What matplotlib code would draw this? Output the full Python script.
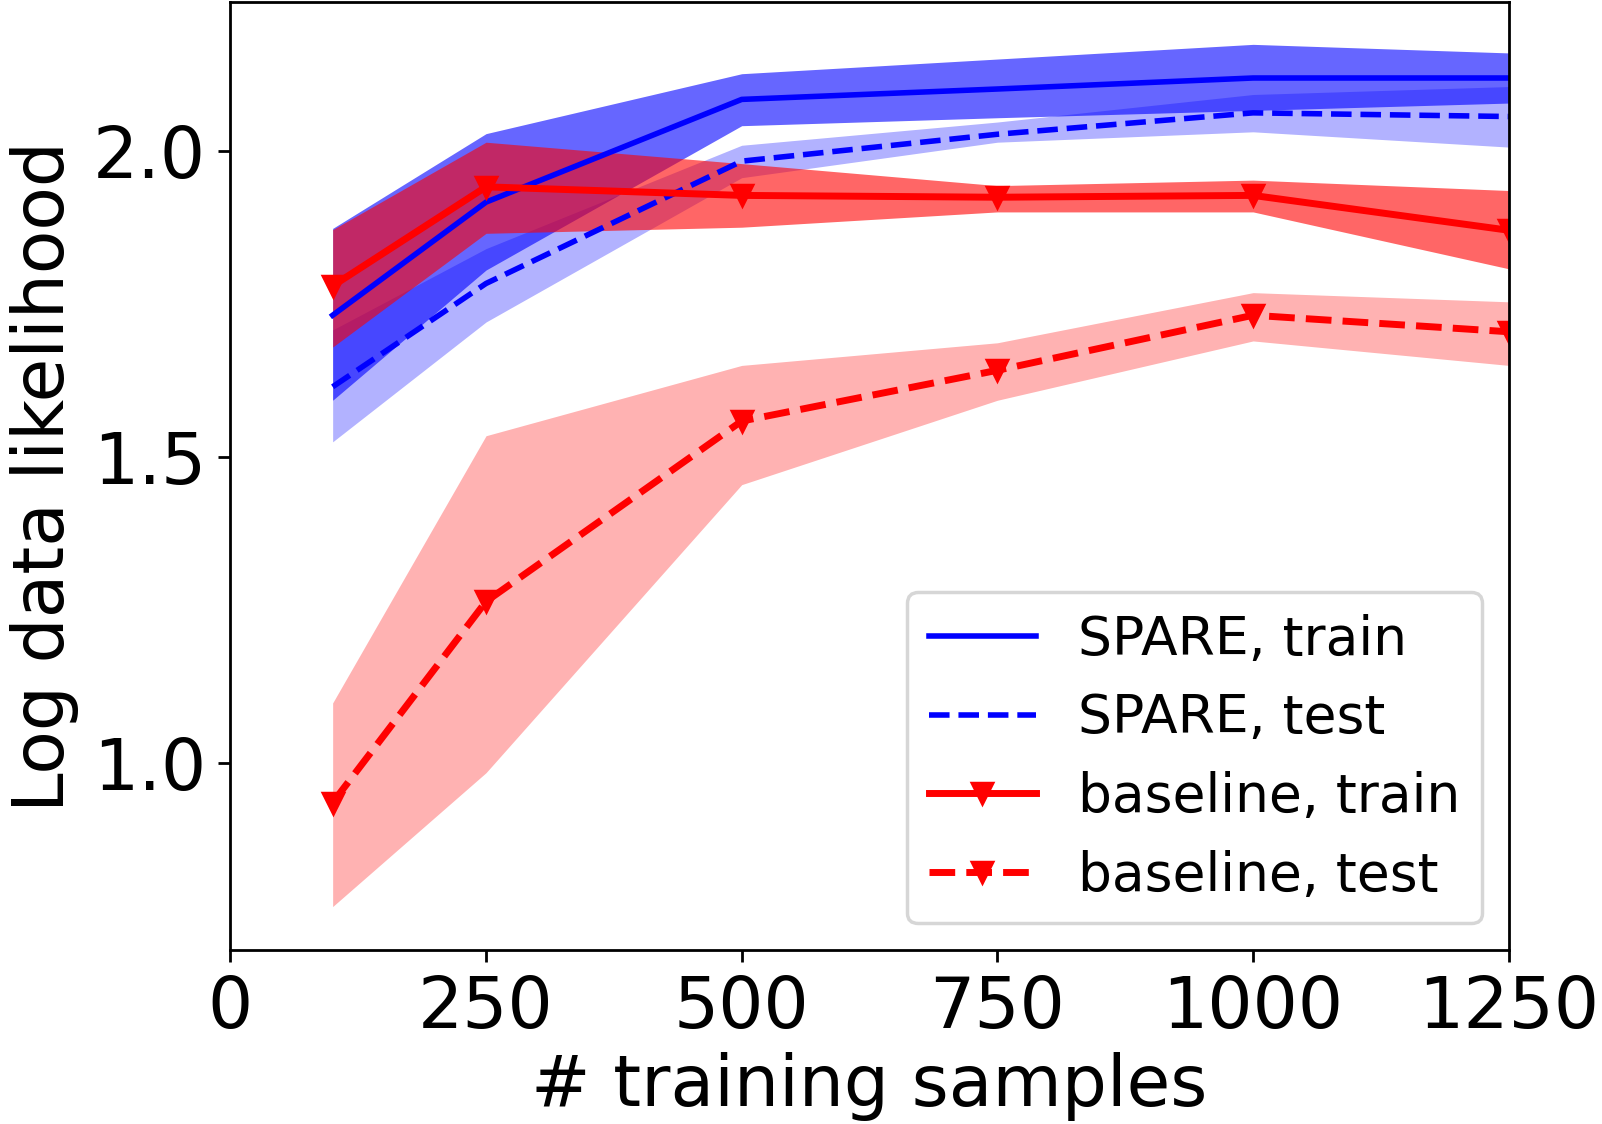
import matplotlib
matplotlib.use('Agg')
import matplotlib.pyplot as plt

# number of training samples
n_samples = [100, 250, 500, 750, 1000, 1250]

# SPARE
spare_train = [1.732, 1.917, 2.085, 2.102, 2.120, 2.120]
spare_train_lo = [1.593, 1.806, 2.042, 2.055, 2.067, 2.079]
spare_train_hi = [1.874, 2.029, 2.127, 2.151, 2.175, 2.161]

spare_test = [1.615, 1.784, 1.984, 2.028, 2.063, 2.057]
spare_test_lo = [1.525, 1.721, 1.957, 2.015, 2.032, 2.007]
spare_test_hi = [1.708, 1.841, 2.010, 2.048, 2.093, 2.106]

# baseline
base_train = [1.780, 1.942, 1.928, 1.925, 1.928, 1.871]
base_train_lo = [1.680, 1.866, 1.876, 1.901, 1.901, 1.808]
base_train_hi = [1.872, 2.015, 1.980, 1.944, 1.953, 1.936]

base_test = [0.935, 1.264, 1.559, 1.642, 1.732, 1.705]
base_test_lo = [0.765, 0.984, 1.455, 1.593, 1.690, 1.650]
base_test_hi = [1.098, 1.535, 1.650, 1.687, 1.769, 1.754]

fig = plt.figure(figsize=(6.408, 4.496), dpi=250)
ax = fig.add_axes([0.1438, 0.1548, 0.7980, 0.8430])

# shaded bands first, lines on top
ax.fill_between(n_samples, spare_train_lo, spare_train_hi, color='b', alpha=0.6, lw=0)
ax.fill_between(n_samples, spare_test_lo, spare_test_hi, color='b', alpha=0.3, lw=0)
ax.fill_between(n_samples, base_train_lo, base_train_hi, color='r', alpha=0.6, lw=0)
ax.fill_between(n_samples, base_test_lo, base_test_hi, color='r', alpha=0.3, lw=0)

ax.plot(n_samples, spare_train, 'b-', lw=1.6, label='SPARE, train')
ax.plot(n_samples, spare_test, 'b--', lw=1.6, label='SPARE, test')
ax.plot(n_samples, base_train, 'r-', marker='v', ms=5.5, lw=2.0, label='baseline, train')
ax.plot(n_samples, base_test, 'r--', marker='v', ms=5.5, lw=2.0, label='baseline, test')

ax.set_xlim(0, 1250)
ax.set_ylim(0.694, 2.2435)
ax.set_xticks([0, 250, 500, 750, 1000, 1250])
ax.set_yticks([1.0, 1.5, 2.0])
ax.tick_params(labelsize=20.5)

ax.set_xlabel('# training samples', fontsize=20.5, labelpad=2.5)
ax.set_ylabel('Log data likelihood', fontsize=20.5)
ax.legend(loc='lower right', fontsize=15.4)

fig.savefig('out.png', dpi=250)
plt.close()
